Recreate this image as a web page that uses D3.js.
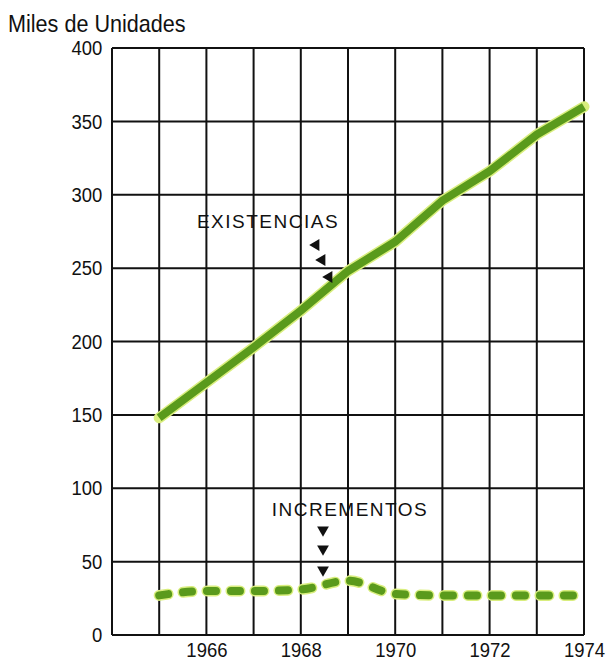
<!DOCTYPE html>
<html>
<head>
<meta charset="utf-8">
<script src="https://cdn.jsdelivr.net/npm/d3@7"></script>
<style>
  body { margin: 0; background: #fff; }
  text { font-family: "Liberation Sans", Arial, sans-serif; }
</style>
</head>
<body>
<svg width="606" height="667"></svg>
<script>
const years = [1965, 1966, 1967, 1968, 1969, 1970, 1971, 1972, 1973, 1974];
const existencias = [148, 172, 196, 221, 248, 268, 296, 316, 341, 360];
const incrementos = [27, 30, 30, 31, 37, 28, 27, 27, 27, 27];
const yTicks = [0, 50, 100, 150, 200, 250, 300, 350, 400];
const xTicks = [1966, 1968, 1970, 1972, 1974];

const svg = d3.select('svg');
const x = d3.scaleLinear().domain([1964, 1974]).range([112, 584]);
const y = d3.scaleLinear().domain([0, 400]).range([635, 48]);

// grid
const grid = svg.append('g').attr('stroke', '#111').attr('stroke-width', 2);
grid.selectAll('line.v')
  .data(d3.range(1964, 1975))
  .join('line')
  .attr('x1', d => x(d)).attr('x2', d => x(d))
  .attr('y1', y(400)).attr('y2', y(0));
grid.selectAll('line.h')
  .data(yTicks)
  .join('line')
  .attr('x1', x(1964)).attr('x2', x(1974))
  .attr('y1', d => y(d)).attr('y2', d => y(d));

// axes (labels only), condensed look
const yAxis = svg.append('g')
  .attr('transform', `translate(${x(1964)},0)`)
  .call(d3.axisLeft(y).tickValues(yTicks).tickSize(0).tickPadding(11));
yAxis.select('.domain').remove();
yAxis.selectAll('text').attr('font-size', 21).attr('fill', '#111')
  .attr('transform', 'scale(0.88,1)');

const xAxis = svg.append('g')
  .attr('transform', `translate(0,${y(0)})`)
  .call(d3.axisBottom(x).tickValues(xTicks).tickFormat(d3.format('d')).tickSize(0).tickPadding(7));
xAxis.select('.domain').remove();
xAxis.selectAll('text').attr('font-size', 21).attr('fill', '#111')
  .attr('transform', 'scale(0.88,1)');

// lines
const lineE = d3.line().x((d, i) => x(years[i])).y(d => y(d));
const lineI = d3.line().x((d, i) => x(years[i])).y(d => y(d)).curve(d3.curveMonotoneX);

svg.append('path').datum(existencias)
  .attr('d', lineE).attr('fill', 'none')
  .attr('stroke', '#d9ee7e').attr('stroke-width', 11).attr('stroke-linecap', 'round');
svg.append('path').datum(existencias)
  .attr('d', lineE).attr('fill', 'none')
  .attr('stroke', '#5a9a1c').attr('stroke-width', 8).attr('stroke-linecap', 'butt');

svg.append('path').datum(incrementos)
  .attr('d', lineI).attr('fill', 'none')
  .attr('stroke', '#d9ee7e').attr('stroke-width', 11).attr('stroke-linecap', 'round')
  .attr('stroke-dasharray', '9 15');
svg.append('path').datum(incrementos)
  .attr('d', lineI).attr('fill', 'none')
  .attr('stroke', '#5a9a1c').attr('stroke-width', 8).attr('stroke-linecap', 'round')
  .attr('stroke-dasharray', '9 15');

// title
svg.append('text').attr('transform', 'translate(8,32) scale(0.9,1)')
  .attr('font-size', 24).attr('fill', '#111')
  .text('Miles de Unidades');

// annotations
svg.append('text').attr('x', 268).attr('y', 228)
  .attr('text-anchor', 'middle').attr('font-size', 19).attr('letter-spacing', 1.5)
  .attr('fill', '#111').text('EXISTENCIAS');
svg.append('text').attr('x', 350).attr('y', 516)
  .attr('text-anchor', 'middle').attr('font-size', 19).attr('letter-spacing', 1.5)
  .attr('fill', '#111').text('INCREMENTOS');

const tri = d3.symbol().type(d3.symbolTriangle).size(60);
const arrowsE = [[316, 245], [322, 260], [329, 277]];
svg.selectAll('path.ae').data(arrowsE).join('path')
  .attr('transform', d => `translate(${d[0]},${d[1]}) rotate(150)`)
  .attr('d', tri).attr('fill', '#111');
const arrowsI = [[323, 530], [323, 549], [323, 570]];
svg.selectAll('path.ai').data(arrowsI).join('path')
  .attr('transform', d => `translate(${d[0]},${d[1]}) rotate(180)`)
  .attr('d', tri).attr('fill', '#111');
</script>
</body>
</html>
